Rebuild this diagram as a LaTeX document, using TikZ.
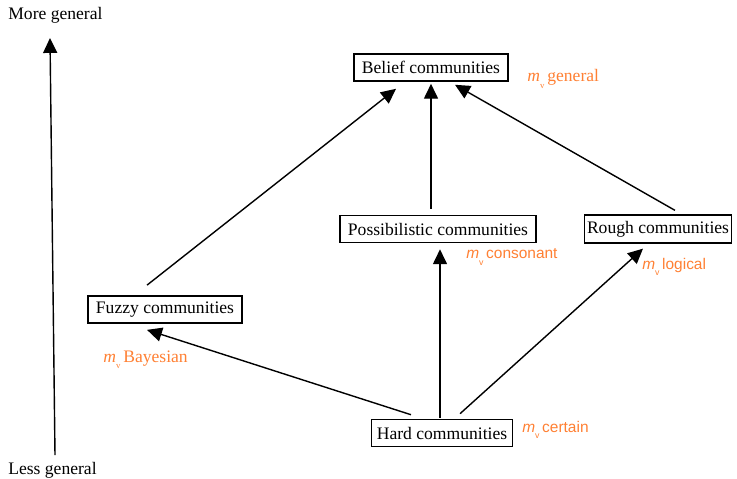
\documentclass[tikz,border=0pt]{standalone}
\usepackage{fontspec}
\setmainfont{Liberation Serif}
\setsansfont{Liberation Sans}
\usepackage{xcolor}
\usetikzlibrary{arrows.meta,calc}
\definecolor{mvOrange}{HTML}{FF8033}
\newcommand{\mv}{{\itshape m}\raisebox{-3.5pt}{\tiny v}\,}

\begin{document}
\begin{tikzpicture}[x=0.02cm, y=-0.02cm, font=\fontsize{10}{12}\selectfont,
  comm/.style={draw, line width=0.9pt, inner xsep=4.5pt, minimum height=0.54cm},
  arr/.style={line width=0.8pt, -{Triangle[length=8.5pt,width=8pt]}},
  mass/.style={anchor=west, text=mvOrange, inner sep=0pt},
  masssf/.style={mass, font=\sffamily\fontsize{8.8}{10}\selectfont}]
\useasboundingbox (0,0) rectangle (737,478);
% generality axis
\node[anchor=west, inner sep=0pt] (more) at (8,15) {More general};
\node[anchor=west, inner sep=0pt] (less) at (8,470) {Less general};
\coordinate (axlow) at (55,455);
\coordinate (axhigh) at (50,38);
\draw[arr] (axlow) -- (axhigh);
% community types
\node[comm] (belief) at (431,67.5) {Belief communities};
\node[comm] (possib) at (438,229) {Possibilistic communities};
\node[comm, inner xsep=1.5pt] (rough) at (658,229) {Rough communities};
\node[comm] (fuzzy) at (165,309.5) {Fuzzy communities};
\node[comm, inner xsep=3pt] (hard) at (442,433) {Hard communities};
% mass function labels
\node[mass] (mgen) at (527,79) {\mv general};
\node[masssf] (mcons) at (466,257) {\mv consonant};
\node[masssf] (mlog) at (642,267) {\mv logical};
\node[mass] (mbay) at (103,360) {\mv Bayesian};
\node[masssf] (mcert) at (522,430) {\mv certain};
% specialisation arrows
\draw[arr] ($(fuzzy.north)+(-18,-10)$) -- ($(belief.south)+(-35,7)$);
\draw[arr] ($(possib.north)+(-7,-6)$) -- ($(belief.south)+(0,2)$);
\draw[arr] ($(rough.north)+(17,-4)$) -- ($(belief.south)+(24,3)$);
\draw[arr] ($(hard.north)+(-31,-4)$) -- ($(fuzzy.south)+(-18,6)$);
\draw[arr] ($(hard.north)+(-2,-1)$) -- ($(possib.south)+(2,6)$);
\draw[arr] ($(hard.north)+(18,-5)$) -- ($(rough.south)+(-15,5)$);
\end{tikzpicture}
\end{document}
